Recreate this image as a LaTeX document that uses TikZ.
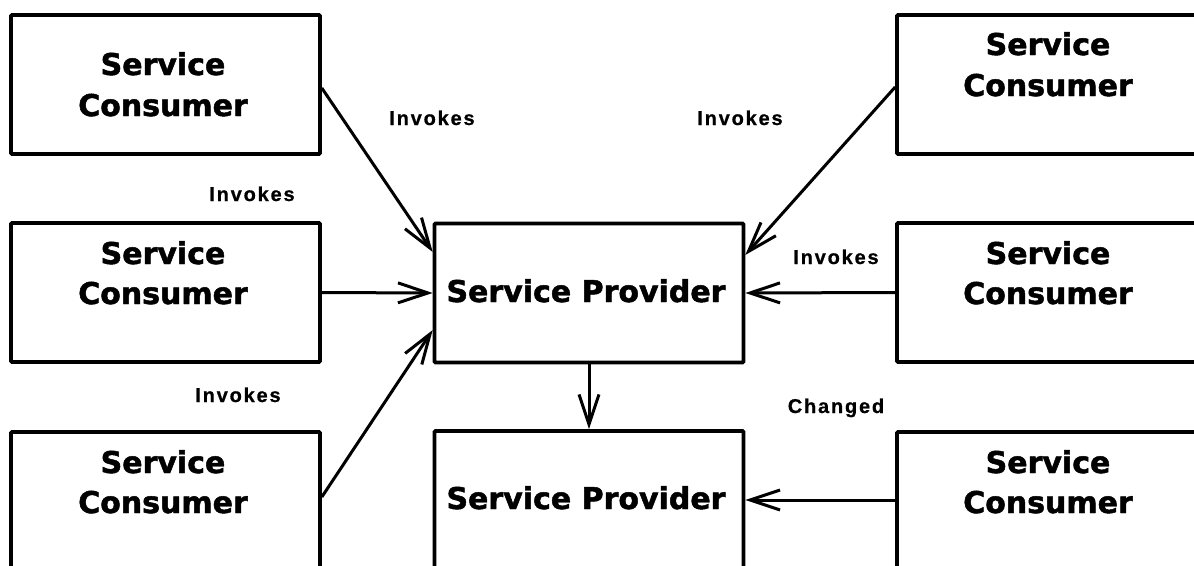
\documentclass[tikz,border=0pt]{standalone}
\usepackage{fontspec}
\usetikzlibrary{arrows.meta}
\newfontfamily\boxfont[FakeBold=1.6]{DejaVu Sans Bold}
\newfontfamily\lblfont[LetterSpace=9,FakeBold=0.6]{Liberation Sans Bold}
\begin{document}
\begin{tikzpicture}[x=1pt,y=-1pt,
  box/.style={draw,line width=3.6pt,rounded corners=1pt,inner sep=0pt,minimum width=309pt,minimum height=139pt},
  boxtxt/.style={font=\boxfont\fontsize{30}{30}\selectfont,anchor=base,inner sep=0pt},
  lbl/.style={font=\lblfont\fontsize{20}{20}\selectfont,anchor=base,inner sep=0pt},
  conn/.style={line width=3pt,-{Straight Barb[length=30pt,width=20pt,line width=3pt]}}]
\useasboundingbox (0,0) rectangle (1194,565);
\clip (0,0) rectangle (1194,565);
% boxes
\node[box] (lt) at (165.5,84.5) {};
\node[box] (lm) at (165.5,292.5) {};
\node[box] (lb) at (165.5,501.5) {};
\node[box] (cp) at (589,293) {};
\node[box] (cb) at (589,500.5) {};
\node[box] (rt) at (1051.5,84.5) {};
\node[box] (rm) at (1051.5,292.5) {};
\node[box] (rb) at (1051.5,501.5) {};
% box texts
\node[boxtxt] (lt1) at (163,75) {Service};
\node[boxtxt] (lt2) at (163,116) {Consumer};
\node[boxtxt] (lm1) at (163,264) {Service};
\node[boxtxt] (lm2) at (163,304) {Consumer};
\node[boxtxt] (lb1) at (163,473) {Service};
\node[boxtxt] (lb2) at (163,513) {Consumer};
\node[boxtxt] (rt1) at (1048,55) {Service};
\node[boxtxt] (rt2) at (1048,96) {Consumer};
\node[boxtxt] (rm1) at (1048,264) {Service};
\node[boxtxt] (rm2) at (1048,304) {Consumer};
\node[boxtxt] (rb1) at (1048,473) {Service};
\node[boxtxt] (rb2) at (1048,513) {Consumer};
\node[boxtxt] (cp1) at (586,302) {Service Provider};
\node[boxtxt] (cb1) at (586,509) {Service Provider};
% labels
\node[lbl] (l1) at (432,125) {Invokes};
\node[lbl] (l2) at (740,125) {Invokes};
\node[lbl] (l3) at (252,201) {Invokes};
\node[lbl] (l4) at (238,402) {Invokes};
\node[lbl] (l5) at (836,264) {Invokes};
\node[lbl] (l6) at (836,413) {Changed};
% connectors
\draw[conn] ([yshift=-3.5pt]lt.east) -- ([yshift=41pt]cp.west);
\draw[conn] ([yshift=4.5pt]lb.east) -- ([yshift=-37pt]cp.west);
\draw[conn] (lm.east) -- (cp.west);
\draw[conn] ([yshift=-2.5pt]rt.west) -- ([yshift=38pt]cp.east);
\draw[conn] (rm.west) -- (cp.east);
\draw[conn] (cp.south) -- (cb.north);
\draw[conn] ([yshift=1.5pt]rb.west) -- ([yshift=0.5pt]cb.east);
\end{tikzpicture}
\end{document}
